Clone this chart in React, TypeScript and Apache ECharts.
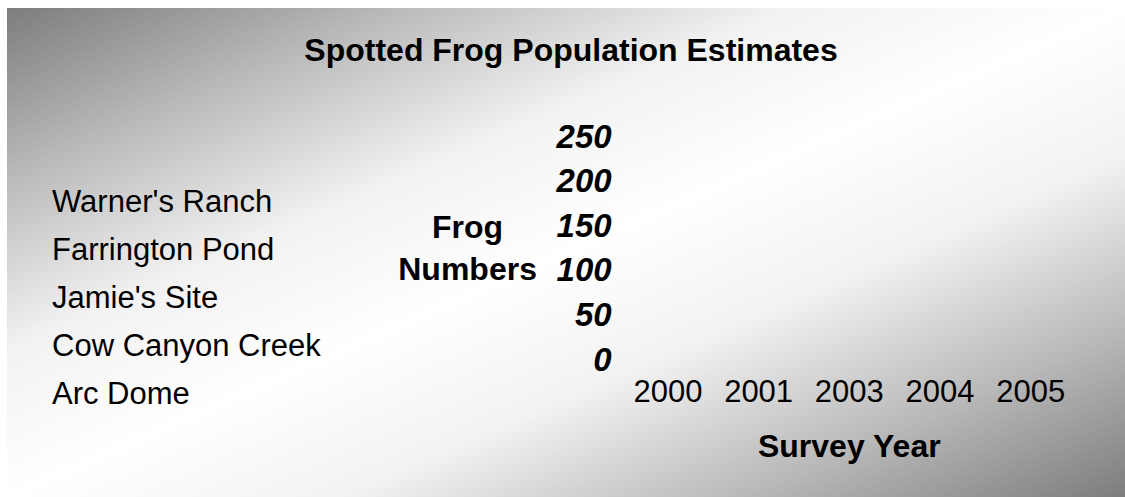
import React, { useEffect, useRef } from "react";
import * as echarts from "echarts";

// Categories (x axis) and series names (legend)
const surveyYears = ["2000", "2001", "2003", "2004", "2005"];
const siteNames = [
  "Warner's Ranch",
  "Farrington Pond",
  "Jamie's Site",
  "Cow Canyon Creek",
  "Arc Dome",
];

// No bars are visible in the reference: the values are empty
const warnersRanch: (number | null)[] = [null, null, null, null, null];
const farringtonPond: (number | null)[] = [null, null, null, null, null];
const jamiesSite: (number | null)[] = [null, null, null, null, null];
const cowCanyonCreek: (number | null)[] = [null, null, null, null, null];
const arcDome: (number | null)[] = [null, null, null, null, null];
const seriesValues = [warnersRanch, farringtonPond, jamiesSite, cowCanyonCreek, arcDome];

// Value axis ticks
const yMin = 0;
const yMax = 250;
const yInterval = 50;

const FONT = "'Liberation Sans', Arial, Helvetica, sans-serif";

export default function App() {
  const ref = useRef<HTMLDivElement>(null);

  useEffect(() => {
    if (!ref.current) return;
    const chart = echarts.init(ref.current, null, { renderer: "svg" });
    chart.setOption({
      animation: false,
      backgroundColor: new echarts.graphic.LinearGradient(0, 0, 1, 1, [
        { offset: 0, color: "#7d7d7d" },
        { offset: 0.17, color: "#b8b8b8" },
        { offset: 0.35, color: "#f2f2f2" },
        { offset: 0.5, color: "#ffffff" },
        { offset: 0.65, color: "#f2f2f2" },
        { offset: 0.83, color: "#b8b8b8" },
        { offset: 1, color: "#7d7d7d" },
      ]),
      title: {
        text: "Spotted Frog Population Estimates",
        left: 559,
        top: 21,
        textAlign: "center",
        textStyle: {
          fontFamily: FONT,
          fontWeight: "bold",
          fontSize: 32,
          color: "#000",
        },
      },
      legend: {
        orient: "vertical",
        left: 40,
        top: 176,
        padding: 0,
        itemWidth: 0,
        itemHeight: 0,
        itemGap: 14,
        itemStyle: { opacity: 0 },
        textStyle: {
          fontFamily: FONT,
          fontSize: 31,
          lineHeight: 34,
          color: "#000",
        },
        data: siteNames,
      },
      grid: {
        left: 615.6,
        right: 49,
        top: 128,
        height: 223,
        containLabel: false,
      },
      xAxis: {
        type: "category",
        data: surveyYears,
        axisLine: { show: false },
        axisTick: { show: false },
        splitLine: { show: false },
        axisLabel: {
          margin: 17,
          fontFamily: FONT,
          fontSize: 31,
          color: "#000",
        },
        name: "Survey Year",
        nameLocation: "middle",
        nameGap: 71,
        nameTextStyle: {
          fontFamily: FONT,
          fontWeight: "bold",
          fontSize: 32,
          color: "#000",
        },
      },
      yAxis: {
        type: "value",
        min: yMin,
        max: yMax,
        interval: yInterval,
        axisLine: { show: false },
        axisTick: { show: false },
        splitLine: { show: false },
        axisLabel: {
          margin: 11,
          fontFamily: FONT,
          fontWeight: "bold",
          fontStyle: "italic",
          fontSize: 33,
          color: "#000",
        },
        name: "Frog\nNumbers",
        nameLocation: "middle",
        nameRotate: 0,
        nameGap: 155,
        nameTextStyle: {
          fontFamily: FONT,
          fontWeight: "bold",
          fontSize: 32,
          lineHeight: 42,
          align: "center",
          verticalAlign: "middle",
          color: "#000",
        },
      },
      series: siteNames.map((name, i) => ({
        name,
        type: "bar",
        data: seriesValues[i],
      })),
    });
    return () => chart.dispose();
  }, []);

  return (
    <div
      ref={ref}
      style={{ position: "fixed", left: 7, top: 8, width: 1118, height: 489 }}
    />
  );
}
